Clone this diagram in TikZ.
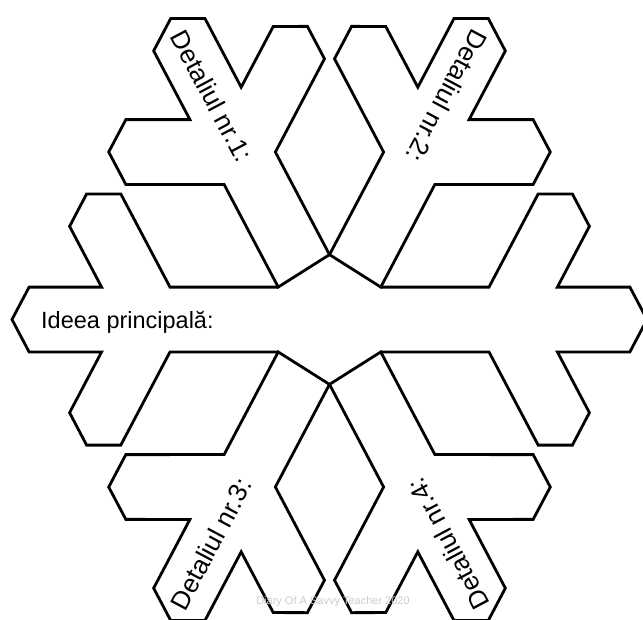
\documentclass[tikz,border=0pt]{standalone}
\usepackage{fontspec}
\setmainfont{Liberation Sans}

\begin{document}
\begin{tikzpicture}[x=1pt, y=1pt, yscale=1.095,
    armline/.style={line width=2.8pt, line join=miter},
    maintext/.style={font=\fontsize{23.5}{24}\selectfont, inner sep=0pt},
    armtext/.style={font=\fontsize{26}{26}\selectfont, inner sep=0pt}]
  \useasboundingbox (-329.5,-274.4) rectangle (313.5,291.8);

  % six arms, the two horizontal ones form the open main bar
  \foreach \a/\e in {0/{}, 180/{}, 60/{-- cycle}, 120/{-- cycle}, 240/{-- cycle}, 300/{-- cycle}}
    \draw[armline, rotate=\a] (51.3,-29.6) -- (159.5,-29.6) -- (208.7,-114.7) -- (242.9,-114.7)
      -- (259.9,-85.1) -- (227.9,-29.6) -- (300.4,-29.6) -- (317.5,0) -- (300.4,29.6)
      -- (227.9,29.6) -- (259.9,85.1) -- (242.9,114.7) -- (208.7,114.7) -- (159.5,29.6)
      -- (51.3,29.6) \e;

  \node[maintext, anchor=base west] (main) at (-288.5,-7.8) {Ideea principală:};
  \node[armtext, rotate=-62] (det1) at (-117.5,204)  {Detaliul nr.1:};
  \node[armtext, rotate=242] (det2) at (117.5,204)   {Detaliul nr.2:};
  \node[armtext, rotate=62]  (det3) at (-118.5,-205) {Detaliul nr.3:};
  \node[armtext, rotate=118] (det4) at (118.5,-205)  {Detaliul nr.4:};

  \node[font=\fontsize{11}{11}\selectfont, text=black!20] (mark) at (3.5,-258) {Diary Of A Savvy Teacher 2020};
\end{tikzpicture}
\end{document}
